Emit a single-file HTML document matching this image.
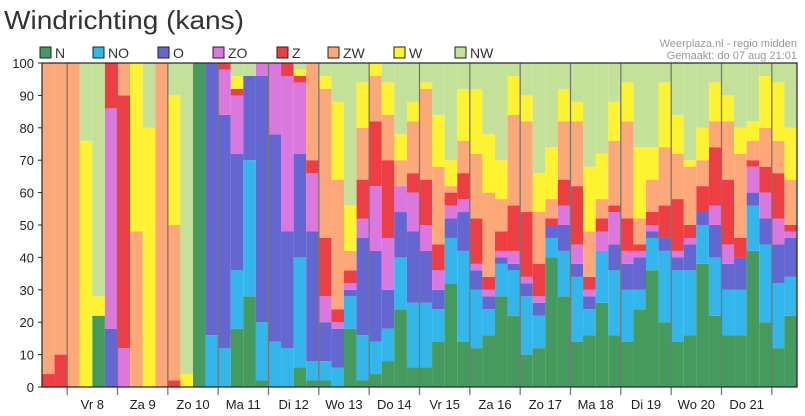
<!DOCTYPE html>
<html><head><meta charset="utf-8"><style>
body{margin:0;background:#fff;font-family:"Liberation Sans",sans-serif}
svg{display:block}
</style></head><body>
<svg id="c" width="805" height="416" xmlns="http://www.w3.org/2000/svg">
<text x="4" y="29" font-size="26" fill="#333" textLength="240" lengthAdjust="spacingAndGlyphs">Windrichting (kans)</text>
<text x="797" y="47" font-size="11" fill="#999" text-anchor="end">Weerplaza.nl - regio midden</text>
<text x="797" y="59" font-size="11" fill="#999" text-anchor="end">Gemaakt: do 07 aug 21:01</text>
<g id="legend"></g>
<g id="bars"></g>
<g id="axes"></g>
</svg>
<script>
const series=["N","NO","O","ZO","Z","ZW","W","NW"];
const colors=["#459b5e","#33b6ec","#6466d1","#dc77de","#ef3d44","#fca878","#fef330","#c4e19a"];
const dayLabels=["Vr 8","Za 9","Zo 10","Ma 11","Di 12","Wo 13","Do 14","Vr 15","Za 16","Zo 17","Ma 18","Di 19","Wo 20","Do 21"];
const yTicks=[0,10,20,30,40,50,60,70,80,90,100];
const N =[0,0,0,0,22,0,0,0,0,0,0,0,100,0,0,18,28,2,0,0,6,2,2,0,18,2,4,8,24,6,6,14,32,14,12,16,28,22,10,12,40,28,14,16,26,16,14,24,36,20,14,16,38,22,16,16,42,20,12,22];
const NO=[0,0,0,0,0,0,0,0,0,0,0,0,0,16,12,18,42,18,14,12,34,6,6,6,10,14,10,10,16,20,20,10,14,28,18,8,10,14,18,10,6,14,20,8,16,20,16,6,10,22,22,20,12,18,14,14,14,24,20,12];
const O =[0,0,0,0,0,18,0,0,0,0,0,0,0,84,72,36,26,76,64,36,32,40,12,12,2,30,28,12,14,22,16,6,6,12,6,4,2,2,4,4,4,8,4,4,0,8,8,10,2,4,4,8,4,10,8,10,4,8,12,12];
const ZO=[0,0,0,0,0,68,12,0,0,0,0,0,0,0,14,18,0,4,22,48,22,18,8,2,2,6,20,16,8,12,8,6,4,4,2,2,2,4,2,2,0,6,6,2,6,10,4,2,2,0,2,2,0,6,6,0,8,8,8,2];
const Z =[4,10,0,0,0,14,78,0,0,0,2,0,0,0,2,2,0,0,0,4,2,4,18,4,4,12,20,24,0,6,14,8,4,8,14,4,6,14,20,10,2,8,18,4,4,2,10,2,4,10,16,4,8,18,20,6,2,8,14,2];
const ZW=[96,90,100,0,0,0,10,48,0,100,48,0,0,0,0,0,0,0,0,0,0,30,46,40,6,16,14,14,8,16,28,24,2,10,20,26,10,28,28,16,6,18,20,14,6,20,30,8,10,18,14,18,8,8,18,26,6,12,10,14];
const W =[0,0,0,76,6,0,0,52,80,0,40,4,0,0,0,4,0,0,0,0,2,0,4,24,14,14,4,10,8,6,2,16,8,16,20,18,12,12,8,12,16,10,6,20,14,12,12,22,10,20,12,2,10,12,8,8,6,16,18,16];
const NW=[0,0,0,24,72,0,0,0,20,0,10,96,0,0,0,4,4,0,0,0,2,0,4,12,44,6,0,6,22,12,6,16,30,8,8,22,30,4,10,34,26,8,12,32,28,12,6,26,26,6,16,30,20,6,10,20,18,4,6,20];
const data=[N,NO,O,ZO,Z,ZW,W,NW];
const NS="http://www.w3.org/2000/svg";
const L=42,R=797,T=63,B=387,n=N.length,bw=(R-L)/n;
const x=i=>L+i*bw;
const y=v=>B-(v/100)*(B-T);
function mk(tag,at,parent){const e=document.createElementNS(NS,tag);for(const k in at)e.setAttribute(k,at[k]);parent.appendChild(e);return e;}
const bars=document.getElementById('bars'),axes=document.getElementById('axes'),leg=document.getElementById('legend');
for(let i=0;i<n;i++){let acc=0;
 for(let s=0;s<series.length;s++){const v=data[s][i];if(!v)continue;
  const r=mk('rect',{x:x(i),y:y(acc+v),width:bw,height:y(acc)-y(acc+v),fill:colors[s]},bars);
  
  
  acc+=v;}}
const lx=[40,93,158,213,277,328,394,455];
series.forEach((s,k)=>{
 const r=mk('rect',{x:lx[k],y:47,width:11,height:11,fill:colors[k],stroke:'#222','stroke-width':1},leg);
 
 
 const t=mk('text',{x:lx[k]+15,y:58,'font-size':14,fill:'#333'},leg);t.textContent=s;
 
 
});
yTicks.forEach(v=>{
 const t=mk('text',{x:34,y:y(v)+5,'font-size':13,fill:'#222','text-anchor':'end'},axes);t.textContent=v;
 
 
 mk('line',{x1:38,x2:L,y1:y(v),y2:y(v),stroke:'#222'},axes);
});
dayLabels.forEach((d,k)=>{
 const xi=x(2+k*4);
 const ln=mk('line',{x1:xi,x2:xi,y1:T,y2:B+8,stroke:'#777','stroke-width':1.3},axes);
 
 
 const t=mk('text',{x:xi+2*bw,y:409,'font-size':13,fill:'#222','text-anchor':'middle'},axes);t.textContent=d;
 
 
});
const last=x(2+dayLabels.length*4);
mk('line',{x1:last,x2:last,y1:T,y2:B+8,stroke:'#777','stroke-width':1.3},axes);
mk('rect',{x:L,y:T,width:R-L,height:B-T,fill:'none',stroke:'#222','stroke-width':1.2},axes);
</script>
</body></html>
